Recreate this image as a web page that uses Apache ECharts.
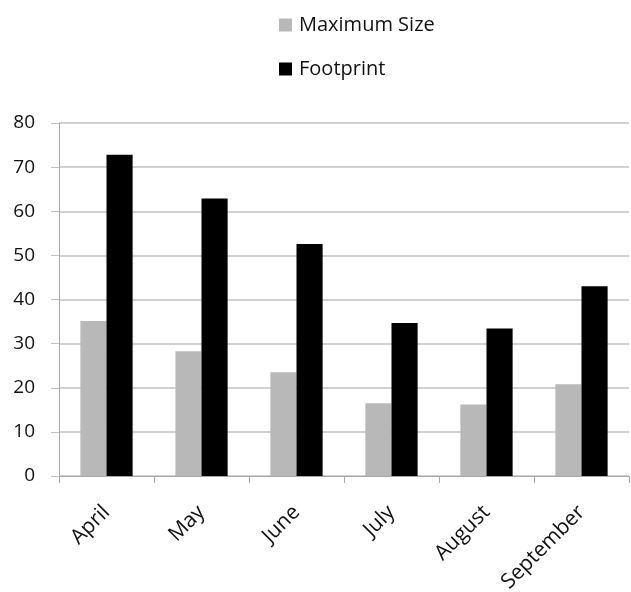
<!DOCTYPE html>
<html>
<head>
<meta charset="utf-8">
<script src="https://cdn.jsdelivr.net/npm/echarts@6/dist/echarts.min.js"></script>
<style>
  html, body { margin: 0; padding: 0; background: #fff; }
  #chart { width: 631px; height: 592px; }
</style>
</head>
<body>
<div id="chart"></div>
<script>
// Monthly figures: maximum size vs. footprint
const months = ['April', 'May', 'June', 'July', 'August', 'September'];
const maximumSize = [35.1, 28.3, 23.5, 16.5, 16.2, 20.8];
const footprint = [72.8, 62.9, 52.6, 34.7, 33.4, 43.0];
const yTicks = [0, 10, 20, 30, 40, 50, 60, 70, 80];

const FONT = '"Open Sans", Lato, sans-serif';
const GRID_COLOR = '#c2c2c2';
const AXIS_COLOR = '#a8a8a8';

// one legend block per row, stacked vertically
function legendRow(name, top) {
  return {
    data: [{ name: name, icon: 'rect' }],
    left: 279, top: top, padding: 0,
    itemWidth: 13, itemHeight: 13, itemGap: 0,
    textStyle: { fontFamily: FONT, fontSize: 20, color: '#111', padding: [0, 0, 0, 2] }
  };
}

const chart = echarts.init(document.getElementById('chart'));
chart.setOption({
  animation: false,
  textStyle: { fontFamily: FONT },
  legend: [legendRow('Maximum Size', 15), legendRow('Footprint', 59)],
  grid: {
    left: 59, right: 2, top: 123, bottom: 116,
    containLabel: false, outerBoundsMode: 'none'
  },
  xAxis: {
    type: 'category',
    data: months,
    boundaryGap: true,
    axisLine: { lineStyle: { color: AXIS_COLOR, width: 1 } },
    axisTick: { show: true, alignWithLabel: false, length: 7, lineStyle: { color: AXIS_COLOR } },
    axisLabel: {
      interval: 0, rotate: 45, margin: 33,
      fontFamily: FONT, fontSize: 21, color: '#111'
    }
  },
  yAxis: {
    type: 'value',
    min: yTicks[0], max: yTicks[yTicks.length - 1], interval: 10,
    axisLine: { show: true, lineStyle: { color: AXIS_COLOR, width: 1 } },
    axisTick: { show: true, length: 8, lineStyle: { color: GRID_COLOR } },
    splitLine: { show: true, lineStyle: { color: GRID_COLOR, width: 1.5 } },
    axisLabel: { margin: 24, fontFamily: FONT, fontSize: 19, color: '#111' }
  },
  series: [
    {
      name: 'Maximum Size', type: 'bar', data: maximumSize,
      barGap: '0%', barCategoryGap: '45%',
      itemStyle: { color: '#b8b8b8' }
    },
    {
      name: 'Footprint', type: 'bar', data: footprint,
      barGap: '0%', barCategoryGap: '45%',
      itemStyle: { color: '#000000' }
    }
  ]
});
</script>
</body>
</html>
